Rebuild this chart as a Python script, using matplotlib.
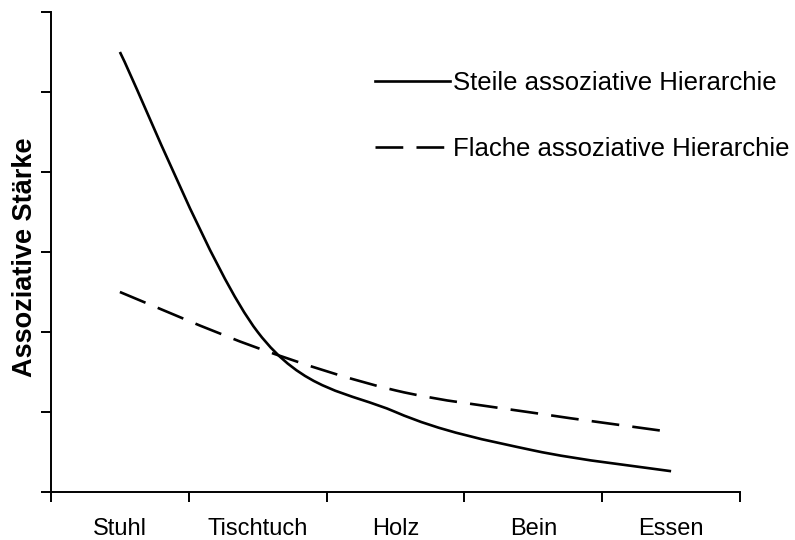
import numpy as np
import matplotlib.pyplot as plt
from matplotlib.path import Path
from matplotlib.patches import PathPatch
from matplotlib.lines import Line2D

plt.rcParams['font.family'] = ['Liberation Sans', 'DejaVu Sans']
plt.rcParams['lines.scale_dashes'] = False

#-------------------------------
# data
#-------------------------------
categories = ["Stuhl", "Tischtuch", "Holz", "Bein", "Essen"]
steep = [5.5, 2.0, 1.0, 0.52, 0.26]
flat = [2.5, 1.8, 1.27, 0.99, 0.75]
steep_label = "Steile assoziative Hierarchie"
flat_label = "Flache assoziative Hierarchie"
y_label = "Assoziative Stärke"

DASH = (0, (20, 9.5))


def smooth_path(xs, ys):
	# excel-like smoothed line: catmull-rom turned into bezier segments
	pts = np.column_stack([xs, ys]).astype(float)
	n = len(pts)
	verts = [pts[0]]
	codes = [Path.MOVETO]
	for i in range(n - 1):
		p0 = pts[max(i - 1, 0)]
		p1 = pts[i]
		p2 = pts[i + 1]
		p3 = pts[min(i + 2, n - 1)]
		c1 = p1 + (p2 - p0) / 6.0
		c2 = p2 - (p3 - p1) / 6.0
		verts += [c1, c2, p2]
		codes += [Path.CURVE4] * 3
	return Path(verts, codes)


fig = plt.figure(figsize=(7.95, 5.4), dpi=100)
ax = fig.add_axes([51/795, 1 - 492/540, 689/795, 480/540])

x = np.arange(len(categories))
ax.add_patch(PathPatch(smooth_path(x, steep), fill=False, color="black",
	lw=1.9, capstyle="butt"))
ax.add_patch(PathPatch(smooth_path(x, flat), fill=False, color="black",
	lw=1.9, linestyle=DASH, capstyle="butt"))

ax.set_xlim(-0.5, len(categories) - 0.5)
ax.set_ylim(0, 6)

ax.set_xticks(np.arange(-0.5, len(categories), 1.0))
ax.set_xticklabels([])
ax.set_xticks(x, minor=True)
ax.set_xticklabels(categories, minor=True, fontsize=17)
ax.tick_params(axis="x", which="minor", length=0, pad=19)
ax.tick_params(axis="x", which="major", length=7, width=1.4, direction="out")
ax.set_yticks(range(0, 7))
ax.set_yticklabels([])
ax.tick_params(axis="y", length=7, width=1.4, direction="out")

for side in ["top", "right"]:
	ax.spines[side].set_visible(False)
for side in ["left", "bottom"]:
	ax.spines[side].set_linewidth(1.4)

fig.text(25/795, 1 - 257/540, y_label, rotation=90, ha="center", va="center",
	fontsize=19.5, fontweight="bold")

handles = [Line2D([], [], color="black", lw=1.9),
	Line2D([], [], color="black", lw=1.9, linestyle=DASH)]
fig.legend(handles, [steep_label, flat_label], loc="upper left",
	bbox_to_anchor=(375/795, 1 - 71/540), frameon=False, fontsize=18.5,
	borderpad=0, borderaxespad=0, handlelength=2.9, handletextpad=0.12,
	labelspacing=1.65)

plt.savefig("out.png", dpi=100)
